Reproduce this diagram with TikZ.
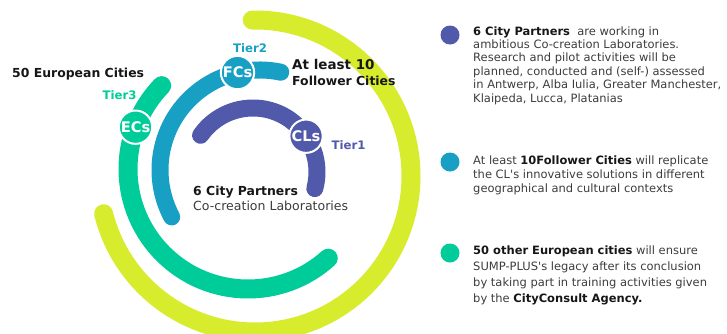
\documentclass[tikz,border=0pt]{standalone}
\usepackage{fontspec}
\setmainfont{DejaVu Sans}
\usetikzlibrary{calc}

\definecolor{tierone}{HTML}{5159AA}
\definecolor{tiertwo}{HTML}{17A0C4}
\definecolor{tierthree}{HTML}{00CC99}
\definecolor{tierfour}{HTML}{D8EC2E}
\definecolor{greytext}{HTML}{3C3C3C}
\definecolor{inktext}{HTML}{161616}
\newcommand{\bftxt}[1]{{\bfseries\color{inktext}#1}}

\begin{document}
\begin{tikzpicture}[x=0.03cm,y=-0.03cm,line cap=round,
  ring/.style={line width=0.51cm},
  tier node/.style={circle,draw=white,line width=1.7pt,minimum size=1cm,inner sep=0pt,text=white,font=\bfseries\fontsize{12.5}{14}\selectfont},
  tier label/.style={anchor=base,inner sep=0pt,font=\bfseries\fontsize{10}{12}\selectfont},
  side label/.style={anchor=base west,inner sep=0pt,text=inktext,font=\bfseries\fontsize{10.6}{12}\selectfont},
  info dot/.style={circle,inner sep=0pt,minimum size=0.57cm},
  info text/.style={anchor=north west,inner sep=0pt,align=left,text=greytext}]
  \useasboundingbox (0,0) rectangle (727,333);
  \clip (0,0) rectangle (727,333);

  \coordinate (c1) at (253,172);
  \coordinate (c2) at (260,170);
  \coordinate (c3) at (248,169);
  \coordinate (c4) at (255,176);

  \draw[ring,line width=0.57cm,tierfour] ($(c4)+(-91:156)$) arc[start angle=-91,end angle=166,radius=156];
  \draw[ring,line width=0.57cm,tierthree] ($(c3)+(-136:120)$) arc[start angle=-136,end angle=-312,radius=120];
  \draw[ring,tiertwo] ($(c2)+(-78:100)$) arc[start angle=-78,end angle=-208,radius=100];
  \draw[ring,tierone] ($(c1)+(-145:64)$) arc[start angle=-145,end angle=15,radius=64];

  \node[tier node,fill=tiertwo] (fcs) at ($(c2)+(-103:100)$) {FCs};
  \node[tier node,fill=tierthree] (ecs) at ($(c3)+(-159.6:120)$) {ECs};
  \node[tier node,fill=tierone] (cls) at ($(c1)+(-34:64)$) {CLs};

  \node[tier label,text=tiertwo] (tier2) at (250,52) {Tier2};
  \node[tier label,text=tierthree] (tier3) at (119.5,99) {Tier3};
  \node[tier label,text=tierone] (tier1) at (348.5,149) {Tier1};

  \node[side label] (european) at (12,77) {50 European Cities};
  \node[side label,font=\bfseries\fontsize{11.5}{13}\selectfont] (atleast) at (292,69) {At least 10};
  \node[side label] (follower) at (292,85) {Follower Cities};
  \node[side label] (partners) at (193,195) {6 City Partners};
  \node[side label,text=greytext,font=\fontsize{10.7}{12}\selectfont] (colab) at (193,210) {Co-creation Laboratories};

  \node[info dot,fill=tierone] (dot1) at (450,35) {};
  \node[info dot,fill=tiertwo] (dot2) at (450,162) {};
  \node[info dot,fill=tierthree] (dot3) at (450,253) {};

  \node[info text,font=\fontsize{9.8}{11.4}\selectfont] (info1) at (473,26.3)
    {\bftxt{6 City Partners}\ \ are working in\\
     ambitious Co-creation Laboratories.\\
     Research and pilot activities will be\\
     planned, conducted and (self-) assessed\\
     in Antwerp, Alba Iulia, Greater Manchester,\\
     Klaipeda, Lucca, Platanias};
  \node[info text,font=\fontsize{9.8}{12}\selectfont] (info2) at (473,155.3)
    {At least \bftxt{10Follower Cities} will replicate\\
     the CL\textquotesingle s innovative solutions in different\\
     geographical and cultural contexts};
  \node[info text,font=\fontsize{9.8}{13.7}\selectfont] (info3) at (473,245.3)
    {\bftxt{50 other European cities} will ensure\\
     SUMP-PLUS\textquotesingle s legacy after its conclusion\\
     by taking part in training activities given\\
     by the \bftxt{CityConsult Agency.}};
\end{tikzpicture}
\end{document}
